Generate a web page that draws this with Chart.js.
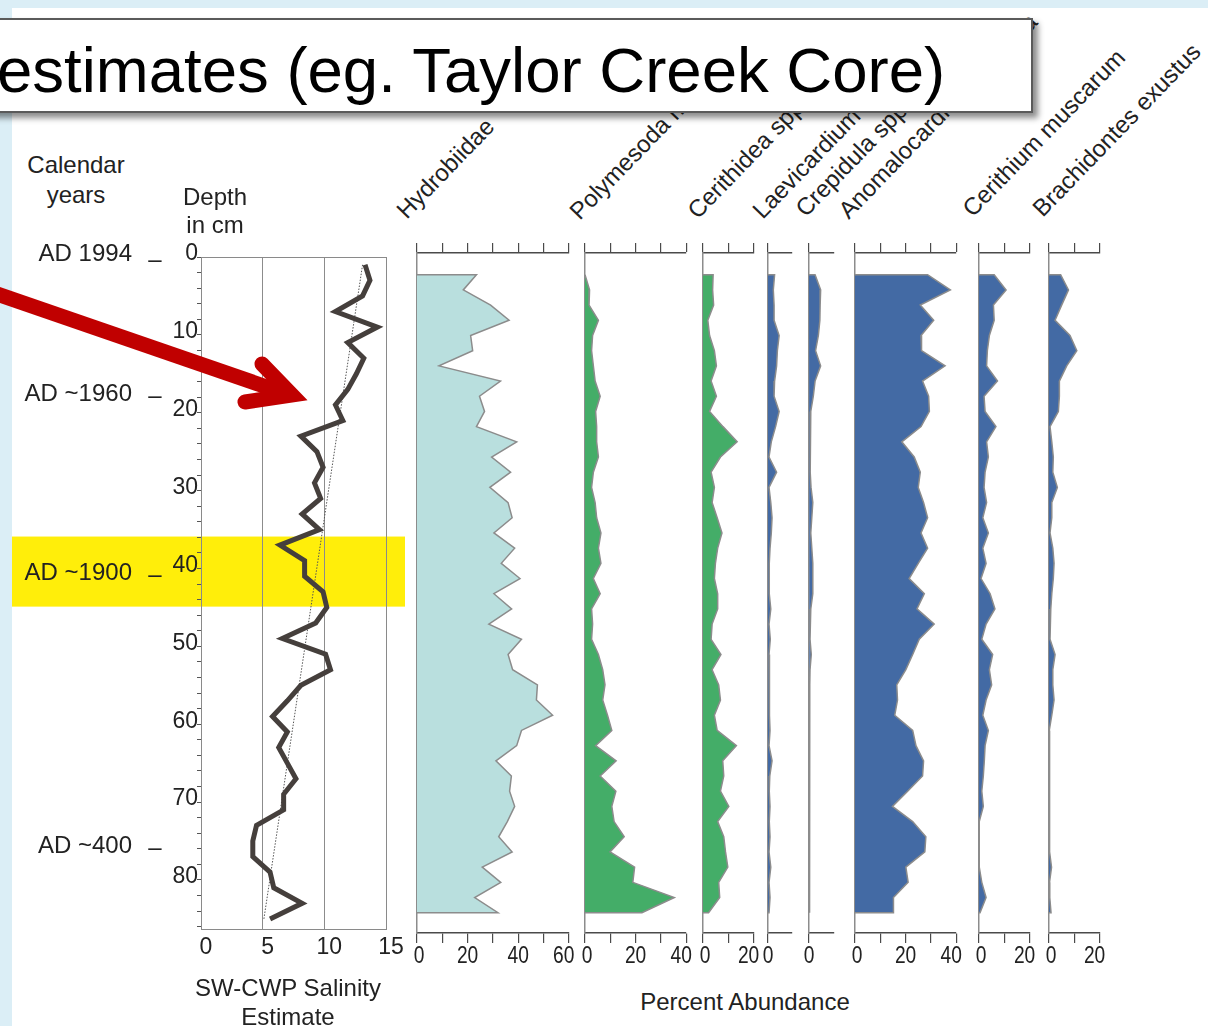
<!DOCTYPE html>
<html>
<head>
<meta charset="utf-8">
<script src="https://cdn.jsdelivr.net/npm/chart.js@4.4.1/dist/chart.umd.min.js"></script>
<style>
  html, body { margin: 0; padding: 0; }
  body { width: 1208px; height: 1026px; overflow: hidden; position: relative; background: #fff;
         font-family: 'Liberation Sans', Arial, sans-serif; color: #222; }
  .abs { position: absolute; }
  .taxon { position: absolute; font-size: 24px; line-height: 24px; white-space: nowrap;
           transform-origin: 0 20.3px; transform: rotate(-46deg); color: #222; }
  .lbl { position: absolute; font-size: 24px; text-align: center; white-space: nowrap; color: #222; }
  #header { position: absolute; left: -20px; top: 18px; width: 1049px; height: 91px; background: #fff;
            border: 2px solid #5a5a5a; box-shadow: 5px 5px 6px rgba(0,0,0,0.45); }
  #headerText { position: absolute; left: -3px; top: 39px; font-size: 63.5px; line-height: 62px;
                white-space: nowrap; color: #000; }
</style>
</head>
<body>
<div class="abs" style="left:0;top:0;width:1208px;height:8px;background:#dbeef6"></div>
<div class="abs" style="left:0;top:0;width:12px;height:1026px;background:#dbeef6"></div>

<canvas id="salinityChart" width="410" height="800" style="position:absolute;left:0;top:230px"></canvas>
<div id="panels"></div>

<div class="lbl" style="left:16px;top:149.7px;width:120px;line-height:30px">Calendar<br>years</div>
<div class="lbl" style="left:155px;top:183.4px;width:120px;line-height:28px">Depth<br>in cm</div>
<div class="lbl" style="left:188px;top:973.2px;width:200px;line-height:29px">SW-CWP Salinity<br>Estimate</div>
<div class="lbl" style="left:595px;top:987.7px;width:300px;line-height:28px">Percent Abundance</div>

<div id="taxa"></div>

<svg class="abs" style="left:0;top:0" width="1208" height="1026">
  <g stroke="#c00000" stroke-width="15" fill="none">
    <line x1="-10" y1="291.5" x2="290" y2="395" stroke-linecap="butt"/>
    <polyline points="262,364 292,395 245,402" stroke-linecap="round" stroke-linejoin="miter" stroke-miterlimit="10"/>
  </g>
</svg>

<div id="header"></div>
<div id="headerText">estimates (eg. Taylor Creek Core)</div>

<script>
// Sample depths (cm below surface) shared by every record in the core
const depthCm = [1, 3, 5, 7, 9, 11, 13, 15, 17, 19, 21, 23, 25, 27, 29, 31, 33, 35, 37, 39, 41,
                 43, 45, 47, 49, 51, 53, 55, 57, 59, 61, 63, 65, 67, 69, 71, 73, 75, 77, 79, 81, 83, 85];

// SW-CWP salinity estimate per sample
const salinity = [13.3, 13.7, 13.1, 10.9, 14.3, 11.9, 13.2, 12.6, 11.9, 10.9, 11.5, 8.1, 9.4, 9.9, 9.2,
                  9.7, 8.2, 9.6, 6.4, 8.4, 8.4, 9.9, 10.2, 9.3, 6.6, 10.1, 10.5, 8.1, 7.0, 5.8, 7.0,
                  6.3, 7.0, 7.7, 6.7, 6.7, 4.5, 4.2, 4.2, 5.6, 5.9, 8.2, 5.6];

// Linear trend through the salinity record
const trendDepth = [1, 85];
const trendSalinity = [13.1, 5.1];

// Percent abundance of each taxon per sample
const hydrobiidae = [23.5, 18.3, 29.1, 36.4, 21.2, 22.0, 8.7, 33.0, 24.7, 26.7, 23.5, 39.4, 29.5, 37.0, 28.8,
                     36.0, 37.6, 30.4, 38.6, 33.3, 40.7, 30.4, 37.4, 28.4, 41.3, 36.0, 37.8, 47.6, 47.2, 53.6,
                     41.3, 39.4, 31.2, 37.3, 36.6, 38.6, 35.7, 32.3, 37.6, 25.8, 33.1, 22.8, 32.0];
const polymesoda = [0.3, 1.8, 1.6, 5.3, 3.0, 2.6, 3.3, 4.0, 6.0, 4.2, 4.6, 4.6, 5.3, 3.3, 2.6, 4.0, 4.6,
                    6.3, 5.3, 6.3, 3.3, 6.0, 2.6, 3.0, 2.6, 5.3, 7.0, 7.9, 7.0, 8.9, 10.6, 4.2, 12.3, 6.0,
                    12.2, 10.6, 11.5, 15.5, 9.9, 19.6, 18.9, 35.3, 22.5];
const cerithidea = [4.0, 3.8, 4.2, 1.9, 2.6, 4.5, 5.3, 3.2, 5.3, 2.6, 7.9, 13.5, 6.9, 3.2, 4.5, 3.6, 5.6,
                    7.5, 5.8, 4.9, 4.5, 5.8, 5.8, 3.6, 3.2, 7.1, 3.6, 6.2, 6.9, 4.5, 5.6, 13.2, 7.8, 8.2,
                    6.9, 10.2, 5.8, 8.2, 8.9, 9.8, 6.2, 6.6, 2.2];
const laevicardium = [2.6, 2.1, 2.4, 2.4, 4.4, 3.7, 3.4, 2.6, 2.4, 4.4, 3.0, 1.3, 0.4, 3.4, 0.4, 1.1, 1.6,
                      1.3, 0.8, 0.5, 0.5, 0.5, 1.1, 0.4, 0.9, 0.4, 0.5, 0.7, 0.4, 0.7, 0.8, 0.4, 1.6, 0.7,
                      0.5, 0.8, 0.5, 0.8, 0.4, 1.1, 0.4, 0.8, 0.4];
const crepidula = [2.4, 4.6, 4.4, 4.3, 3.7, 2.6, 4.6, 2.4, 1.7, 0.7, 0.4, 0.4, 0.4, 0.7, 0.8, 1.5, 1.1,
                   0.7, 1.1, 1.5, 1.5, 1.5, 0.7, 0.4, 0.4, 0.9, 0.4, 0.3, 0.3, 0.2, 0.3, 0.2, 0.2, 0.3,
                   0.2, 0.2, 0.3, 0.2, 0.2, 0.2, 0.3, 0.2, 0.2];
const anomalocardia = [28.7, 37.7, 25.8, 31.1, 26.1, 26.3, 35.6, 26.7, 29.1, 29.4, 26.1, 18.5, 23.4, 25.8,
                       25.0, 27.1, 28.7, 26.1, 28.7, 25.0, 21.4, 27.4, 24.5, 31.3, 25.4, 22.8, 20.1, 16.5,
                       16.8, 15.7, 22.8, 24.1, 27.1, 26.7, 20.8, 14.8, 22.8, 28.0, 27.6, 20.1, 21.0, 15.2, 15.2];
const cerithium = [6.0, 10.7, 5.7, 6.0, 4.1, 3.3, 3.0, 7.3, 2.0, 2.4, 6.7, 3.0, 3.7, 2.4, 2.0, 3.0, 1.5,
                   3.7, 1.5, 2.8, 0.8, 4.4, 6.3, 2.8, 1.1, 5.4, 4.1, 5.0, 2.8, 1.5, 3.7, 2.4, 2.1, 1.7,
                   1.1, 1.7, 0.1, 0.1, 0.1, 0.1, 1.1, 2.8, 0.4];
const brachidontes = [4.6, 7.7, 5.0, 2.4, 8.3, 11.0, 7.0, 4.1, 4.1, 3.7, 0.4, 1.1, 1.7, 1.5, 3.3, 1.1, 1.1,
                      0.4, 1.5, 2.0, 1.7, 1.1, 0.7, 0.4, 0.4, 2.4, 1.5, 1.5, 2.0, 1.1, 0.1, 0.2, 0.2, 0.2,
                      0.2, 0.2, 0.2, 0.3, 0.3, 1.0, 0.2, 0.3, 0.8];

const taxonNames = ['Hydrobiidae', 'Polymesoda maritima', 'Cerithidea spp.', 'Laevicardium mortoni',
                    'Crepidula spp.', 'Anomalocardia auberiana', 'Cerithium muscarum', 'Brachidontes exustus'];

// Axis ticks
const depthTicks = [0, 2, 4, 6, 8, 10, 12, 14, 16, 18, 20, 22, 24, 26, 28, 30, 32, 34, 36, 38, 40, 42,
                    44, 46, 48, 50, 52, 54, 56, 58, 60, 62, 64, 66, 68, 70, 72, 74, 76, 78, 80, 82, 84, 86];
const salinityTicks = [0, 5, 10, 15];

// Calendar ages against depth
const calendarLabels = ['AD 1994', 'AD ~1960', 'AD ~1900', 'AD ~400'];
const calendarDepth = [-0.4, 17.7, 40.6, 75.7];
const highlightDepth = [35.9, 44.9];

const FONT = "'Liberation Sans', Arial, sans-serif";

// ---------- salinity profile ----------
const salinityDecor = {
  id: 'salinityDecor',
  beforeDraw(chart) {
    const { ctx, scales: { y } } = chart;
    const y0 = y.getPixelForValue(highlightDepth[0]);
    const y1 = y.getPixelForValue(highlightDepth[1]);
    ctx.save();
    ctx.fillStyle = '#ffee0a';
    ctx.fillRect(12, y0, 393, y1 - y0);
    ctx.restore();
  },
  beforeDatasetsDraw(chart) {
    const { ctx, chartArea: a } = chart;
    ctx.save();
    ctx.strokeStyle = '#8a8a8a';
    ctx.lineWidth = 1;
    ctx.strokeRect(a.left + 0.5, a.top + 0.5, a.right - a.left, a.bottom - a.top);
    ctx.restore();
  },
  afterDraw(chart) {
    const { ctx, scales: { y } } = chart;
    ctx.save();
    ctx.fillStyle = '#222';
    ctx.font = '24px ' + FONT;
    ctx.textBaseline = 'middle';
    calendarLabels.forEach((t, i) => {
      const py = y.getPixelForValue(calendarDepth[i]);
      ctx.textAlign = 'right';
      ctx.fillText(t, 132, py);
      ctx.textAlign = 'center';
      ctx.fillText('\u2013', 155, py + (i === 0 ? 6 : 2));
    });
    ctx.restore();
  }
};

new Chart(document.getElementById('salinityChart'), {
  type: 'scatter',
  data: {
    datasets: [
      {
        data: salinity.map((v, i) => ({ x: v, y: depthCm[i] })),
        showLine: true, borderColor: '#453f3c', borderWidth: 5, pointRadius: 0, tension: 0, fill: false
      },
      {
        data: trendSalinity.map((v, i) => ({ x: v, y: trendDepth[i] })),
        showLine: true, borderColor: '#555', borderWidth: 1, borderDash: [1.5, 1.5], pointRadius: 0, fill: false
      }
    ]
  },
  options: {
    responsive: false, animation: false, events: [],
    layout: { padding: { left: 0, right: 24, top: 27, bottom: 0 } },
    plugins: { legend: { display: false }, tooltip: { enabled: false } },
    scales: {
      x: {
        type: 'linear', min: 0, max: 15,
        afterBuildTicks: s => { s.ticks = salinityTicks.map(v => ({ value: v })); },
        afterFit: s => { s.height = 101; },
        grid: { drawOnChartArea: true, drawTicks: false, color: '#8c8c8c', lineWidth: 1 },
        border: { display: true, color: '#8a8a8a', width: 1 },
        ticks: { autoSkip: false, maxRotation: 0, minRotation: 0, padding: 5, labelOffset: 5,
                 color: '#222', font: { family: FONT, size: 23 } }
      },
      y: {
        type: 'linear', reverse: true, min: 0, max: 86.3,
        afterBuildTicks: s => { s.ticks = depthTicks.map(v => ({ value: v })); },
        afterFit: s => { s.width = 201; },
        grid: { drawOnChartArea: false, drawTicks: true, tickLength: 4, color: '#555', lineWidth: 1 },
        border: { display: true, color: '#8a8a8a', width: 1 },
        ticks: { autoSkip: false, padding: -1, labelOffset: -3, color: '#222',
                 font: { family: FONT, size: 23 },
                 callback: v => (v % 10 === 0 ? String(v) : '') }
      }
    }
  },
  plugins: [salinityDecor]
});

// ---------- abundance panels ----------
const PX_PER_PCT = 2.53;
const panels = [
  { values: hydrobiidae,   x0: 417,    max: 60,  ticks: [0, 10, 20, 30, 40, 50, 60], labels: [0, 20, 40, 60], color: '#b9dfde' },
  { values: polymesoda,    x0: 585,    max: 40,  ticks: [0, 10, 20, 30, 40],         labels: [0, 20, 40],     color: '#44ad68' },
  { values: cerithidea,    x0: 703,    max: 20,  ticks: [0, 10, 20],                 labels: [0, 20],         color: '#44ad68' },
  { values: laevicardium,  x0: 767.5,  max: 9.5, ticks: [0],                         labels: [0],             color: '#436aa4' },
  { values: crepidula,     x0: 809,    max: 9.9, ticks: [0],                         labels: [0],             color: '#436aa4' },
  { values: anomalocardia, x0: 854.5,  max: 40,  ticks: [0, 10, 20, 30, 40],         labels: [0, 20, 40],     color: '#436aa4' },
  { values: cerithium,     x0: 979,    max: 20,  ticks: [0, 10, 20],                 labels: [0, 20],         color: '#436aa4' },
  { values: brachidontes,  x0: 1048.5, max: 20,  ticks: [0, 10, 20],                 labels: [0, 20],         color: '#436aa4' }
];

// Narrow percentage labels under each panel's bottom axis
const narrowTickLabels = {
  id: 'narrowTickLabels',
  afterDraw(chart, args, opts) {
    const { ctx } = chart;
    const sx = chart.scales.x;
    const labels = opts.labels || [];
    ctx.save();
    ctx.fillStyle = '#222';
    ctx.font = '24px ' + FONT;
    ctx.textAlign = 'center';
    ctx.textBaseline = 'alphabetic';
    labels.forEach((v, i) => {
      let nudge = 0;
      if (labels.length > 1 && i === 0) nudge = 2;
      if (labels.length > 1 && i === labels.length - 1) nudge = -5;
      ctx.save();
      ctx.translate(sx.getPixelForValue(v) + nudge, sx.bottom - 42 + 30);
      ctx.scale(0.8, 1);
      ctx.fillText(String(v), 0, 0);
      ctx.restore();
    });
    ctx.restore();
  }
};

const panelHost = document.getElementById('panels');
panels.forEach(p => {
  const w = Math.round(p.max * PX_PER_PCT);
  const canvas = document.createElement('canvas');
  canvas.width = w + 40;
  canvas.height = 745;
  canvas.style.cssText = 'position:absolute;top:230px;left:' + (p.x0 - 20) + 'px';
  panelHost.appendChild(canvas);

  const last = depthCm.length - 1;
  const outline = [{ x: 0, y: depthCm[0] }]
    .concat(p.values.map((v, i) => ({ x: v, y: depthCm[i] })))
    .concat([{ x: 0, y: depthCm[last] }]);

  const axisGrid = { drawOnChartArea: false, drawTicks: true, tickLength: 10, color: '#4a4a4a', lineWidth: 1.2 };
  const axisBorder = { display: true, color: '#4a4a4a', width: 1.5 };
  const setTicks = s => { s.ticks = p.ticks.map(v => ({ value: v })); };
  const xMax = w / PX_PER_PCT;

  new Chart(canvas, {
    type: 'scatter',
    data: {
      datasets: [{
        data: outline, showLine: true, fill: 'shape', backgroundColor: p.color,
        borderColor: '#8c8c8c', borderWidth: 1.5, pointRadius: 0, tension: 0
      }]
    },
    options: {
      responsive: false, animation: false, events: [],
      layout: { padding: { left: 20, right: 20, top: 11, bottom: 0 } },
      plugins: { legend: { display: false }, tooltip: { enabled: false },
                 narrowTickLabels: { labels: p.labels } },
      scales: {
        x: {
          type: 'linear', position: 'bottom', min: 0, max: xMax,
          afterBuildTicks: setTicks,
          afterFit: s => { s.height = 42; },
          grid: axisGrid, border: axisBorder,
          ticks: { display: false }
        },
        xTop: {
          type: 'linear', position: 'top', min: 0, max: xMax,
          afterBuildTicks: setTicks,
          afterFit: s => { s.height = 12; },
          grid: axisGrid, border: axisBorder,
          ticks: { display: false }
        },
        y: {
          type: 'linear', reverse: true, min: -1.86, max: 87.67,
          afterFit: s => { s.width = 0; },
          grid: { drawOnChartArea: false, drawTicks: false },
          border: { display: true, color: '#8c8c8c', width: 1.5 },
          ticks: { display: false }
        }
      }
    },
    plugins: [narrowTickLabels]
  });
});

// ---------- taxon names ----------
const taxonAnchor = [[407, 220], [580, 221], [698, 220], [763, 220], [806, 218], [849, 220], [973, 218], [1043, 218]];
const taxaHost = document.getElementById('taxa');
taxonNames.forEach((name, i) => {
  const d = document.createElement('div');
  d.className = 'taxon';
  d.textContent = name;
  d.style.left = taxonAnchor[i][0] + 'px';
  d.style.top = (taxonAnchor[i][1] - 20.3) + 'px';
  taxaHost.appendChild(d);
});
</script>
</body>
</html>
